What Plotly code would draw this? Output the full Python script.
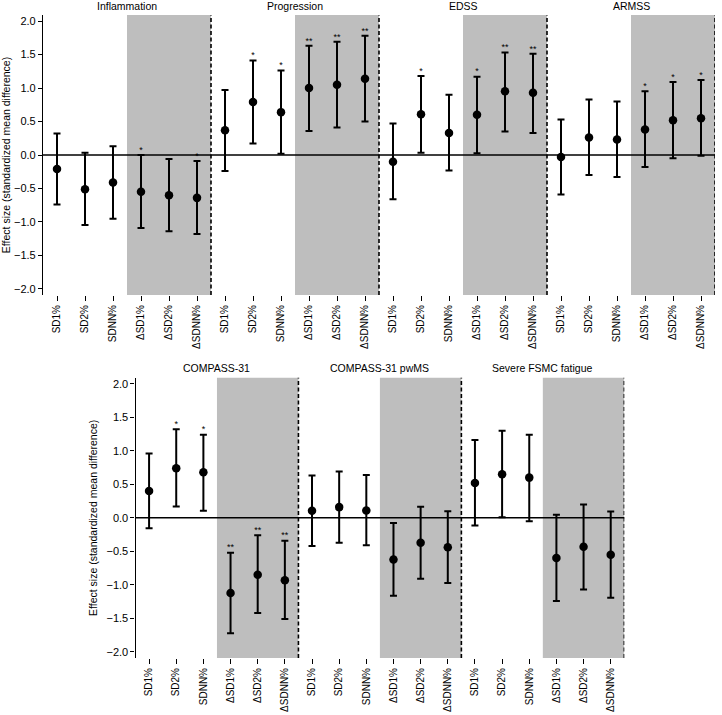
import plotly.graph_objects as go

# HRV measures shown in every panel
x_labels = ["SD1%", "SD2%", "SDNN%", "ΔSD1%", "ΔSD2%", "ΔSDNN%"]

top_panels = ["Inflammation", "Progression", "EDSS", "ARMSS"]
bottom_panels = ["COMPASS-31", "COMPASS-31 pwMS", "Severe FSMC fatigue"]

# effect size, lower CI, upper CI, significance marks
inflammation_est = [-0.21, -0.51, -0.41, -0.55, -0.60, -0.64]
inflammation_lo = [-0.74, -1.045, -0.95, -1.09, -1.14, -1.18]
inflammation_hi = [0.32, 0.035, 0.13, 0.00, -0.06, -0.09]
inflammation_sig = ["", "", "", "*", "", "*"]

progression_est = [0.37, 0.79, 0.64, 1.00, 1.05, 1.14]
progression_lo = [-0.24, 0.17, 0.02, 0.36, 0.41, 0.50]
progression_hi = [0.97, 1.41, 1.26, 1.63, 1.69, 1.78]
progression_sig = ["", "*", "*", "**", "**", "**"]

edss_est = [-0.10, 0.61, 0.33, 0.60, 0.95, 0.93]
edss_lo = [-0.66, 0.035, -0.23, 0.025, 0.35, 0.33]
edss_hi = [0.47, 1.18, 0.90, 1.17, 1.53, 1.51]
edss_sig = ["", "*", "", "*", "**", "**"]

armss_est = [-0.03, 0.26, 0.23, 0.38, 0.52, 0.55]
armss_lo = [-0.59, -0.30, -0.33, -0.18, -0.05, -0.01]
armss_hi = [0.53, 0.83, 0.80, 0.95, 1.09, 1.12]
armss_sig = ["", "", "", "*", "*", "*"]

compass_est = [0.40, 0.74, 0.68, -1.12, -0.85, -0.93]
compass_lo = [-0.155, 0.17, 0.105, -1.72, -1.42, -1.51]
compass_hi = [0.96, 1.32, 1.24, -0.52, -0.26, -0.34]
compass_sig = ["", "*", "*", "**", "**", "**"]

compass_pwms_est = [0.105, 0.16, 0.11, -0.62, -0.37, -0.44]
compass_pwms_lo = [-0.42, -0.37, -0.41, -1.16, -0.91, -0.97]
compass_pwms_hi = [0.63, 0.69, 0.64, -0.075, 0.165, 0.10]
compass_pwms_sig = ["", "", "", "", "", ""]

fatigue_est = [0.52, 0.65, 0.60, -0.60, -0.43, -0.55]
fatigue_lo = [-0.115, 0.01, -0.05, -1.24, -1.07, -1.19]
fatigue_hi = [1.16, 1.30, 1.24, 0.045, 0.20, 0.095]
fatigue_sig = ["", "", "", "", "", ""]

top_data = [
    (inflammation_est, inflammation_lo, inflammation_hi, inflammation_sig),
    (progression_est, progression_lo, progression_hi, progression_sig),
    (edss_est, edss_lo, edss_hi, edss_sig),
    (armss_est, armss_lo, armss_hi, armss_sig),
]
bottom_data = [
    (compass_est, compass_lo, compass_hi, compass_sig),
    (compass_pwms_est, compass_pwms_lo, compass_pwms_hi, compass_pwms_sig),
    (fatigue_est, fatigue_lo, fatigue_hi, fatigue_sig),
]

W, H = 722, 715
FONT = "Liberation Sans, Arial, sans-serif"
GREY = "#bebebe"
n = len(x_labels)


def fx(px):
    return px / W


def fy(px):
    return 1 - px / H


fig = go.Figure()
shapes = []
annotations = []


def add_row(panels, data, xa, ya, title_y):
    xs_all, ys_all, up_all, dn_all, st_x, st_y, st_t = [], [], [], [], [], [], []
    for p, (est, lo, hi, sig) in enumerate(data):
        for i in range(n):
            x = p * n + i
            xs_all.append(x)
            ys_all.append(est[i])
            up_all.append(hi[i] - est[i])
            dn_all.append(est[i] - lo[i])
            if sig[i]:
                st_x.append(x)
                st_y.append(hi[i])
                st_t.append(sig[i])
        # grey block over the change measures
        shapes.append(dict(type="rect", xref=xa, yref=ya + " domain",
                           x0=p * n + 2.5, x1=p * n + 5.5, y0=0, y1=1,
                           fillcolor=GREY, line=dict(width=0), layer="below"))
        shapes.append(dict(type="line", xref=xa, yref=ya + " domain",
                           x0=p * n + 5.5, x1=p * n + 5.5, y0=0, y1=1,
                           line=dict(color="black", width=1.6, dash="4px,2.5px"),
                           layer="below"))
        annotations.append(dict(text=panels[p], xref=xa, yref="paper",
                                x=p * n + 2.5, y=title_y, showarrow=False,
                                yanchor="middle",
                                font=dict(size=10.5, color="black", family=FONT)))
    shapes.append(dict(type="line", xref=xa + " domain", yref=ya,
                       x0=0, x1=1, y0=0, y1=0,
                       line=dict(color="black", width=1.5), layer="below"))
    fig.add_trace(go.Scatter(
        x=xs_all, y=ys_all, mode="markers", xaxis=xa, yaxis=ya,
        marker=dict(size=8.5, color="black"),
        error_y=dict(type="data", symmetric=False, array=up_all,
                     arrayminus=dn_all, color="black", thickness=2, width=3.5),
        showlegend=False, hoverinfo="skip"))
    fig.add_trace(go.Scatter(
        x=st_x, y=st_y, mode="text", text=st_t, textposition="top center",
        xaxis=xa, yaxis=ya, textfont=dict(size=9, color="black", family=FONT),
        showlegend=False, hoverinfo="skip"))


add_row(top_panels, top_data, "x", "y", fy(6))
add_row(bottom_panels, bottom_data, "x2", "y2", fy(368))

yaxis_common = dict(
    range=[-2.09, 2.09], dtick=0.5, tickformat=".1f", showgrid=False,
    zeroline=False, showline=True, linecolor="black", linewidth=1.2,
    ticks="outside", ticklen=4, tickwidth=1.2, tickcolor="black",
    tickfont=dict(size=11, color="black", family=FONT),
    title=dict(text="Effect size (standardized mean difference)",
               font=dict(size=10.5, color="black", family=FONT), standoff=6),
)
xaxis_common = dict(
    showgrid=False, zeroline=False, showline=False,
    ticks="outside", ticklen=5, tickwidth=1.2, tickcolor="black",
    tickangle=-90, tickfont=dict(size=10, color="black", family=FONT),
)

fig.update_layout(
    width=W, height=H,
    margin=dict(l=0, r=0, t=0, b=0),
    paper_bgcolor="white", plot_bgcolor="white",
    font=dict(family=FONT, color="black"),
    xaxis=dict(domain=[fx(43), fx(715)], range=[-0.5, 4 * n - 0.5],
               tickvals=list(range(4 * n)), ticktext=x_labels * 4,
               anchor="y", **xaxis_common),
    yaxis=dict(domain=[fy(295), fy(15)], anchor="x", **yaxis_common),
    xaxis2=dict(domain=[fx(135.5), fx(624.3)], range=[-0.5, 3 * n - 0.5],
                tickvals=list(range(3 * n)), ticktext=x_labels * 3,
                anchor="y2", **xaxis_common),
    yaxis2=dict(domain=[fy(658), fy(377.7)], anchor="x2", **yaxis_common),
    shapes=shapes,
    annotations=annotations,
)

# drop the default page margin so the figure fills the window
fig.write_html("out.html",
               config={"displayModeBar": False},
               post_script="document.body.style.margin='0';"
                           "document.body.style.overflow='hidden';")
